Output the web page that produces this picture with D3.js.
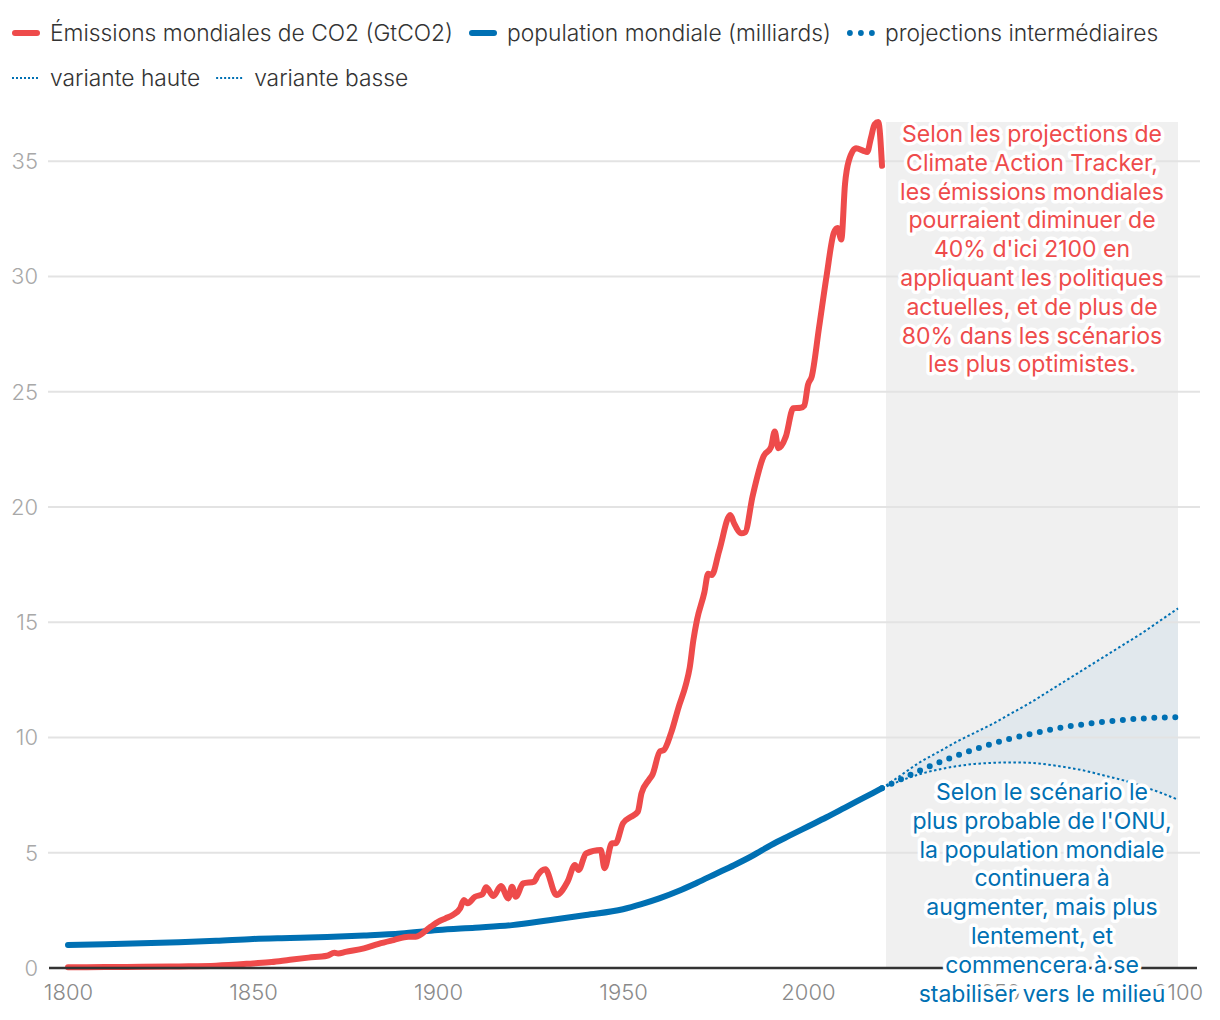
<!DOCTYPE html>
<html><head><meta charset="utf-8">
<script src="https://cdn.jsdelivr.net/npm/d3@7"></script>
<style>
html,body{margin:0;padding:0;background:#fff;overflow:hidden;}
svg{display:block;font-family:Inter,"Noto Sans",sans-serif;}
</style></head>
<body><svg id="chart" width="1220" height="1020"></svg>
<script>
// ---- data ----
const co2Years = [1800,1810,1820,1830,1840,1850,1855,1860,1865,1870,1872,1873,1875,1880,1884,1888,1892,1894,1898,1900,1902,1904,1906,1907,1908,1910,1912,1913,1915,1917,1919,1920,1921,1923,1926,1927,1929,1932,1935,1937,1938,1940,1944,1945,1947,1948,1950,1952,1954,1955,1957,1958,1960,1961,1963,1965,1967,1968,1969,1970,1972,1973,1974,1976,1979,1980,1982,1983,1985,1988,1990,1991,1992,1994,1996,1998,1999,2000,2001,2003,2005,2007,2008,2009,2010,2011,2013,2015,2016,2017,2018,2019,2020];
const co2Values = [0.03,0.04,0.05,0.07,0.10,0.20,0.26,0.36,0.45,0.53,0.66,0.63,0.70,0.85,1.05,1.21,1.36,1.36,1.79,2.0,2.15,2.3,2.59,2.95,2.81,3.09,3.2,3.5,3.12,3.56,3.02,3.53,3.09,3.67,3.75,4.03,4.28,3.17,3.74,4.47,4.25,4.97,5.12,4.33,5.41,5.41,6.28,6.54,6.78,7.58,8.16,8.4,9.4,9.45,10.2,11.3,12.3,13.0,14.2,15.1,16.3,17.1,17.05,18.1,19.65,19.3,18.86,18.9,20.45,22.2,22.6,23.27,22.55,23.05,24.28,24.3,24.4,25.3,25.65,27.8,30.0,31.9,32.1,31.6,34.0,35.0,35.56,35.45,35.4,36.0,36.6,36.7,34.8];

const popYears = [1800,1810,1820,1830,1840,1850,1860,1870,1880,1890,1900,1910,1920,1930,1940,1950,1955,1960,1965,1970,1975,1980,1985,1990,1995,2000,2005,2010,2015,2020];
const popValues = [1.0,1.03,1.07,1.12,1.18,1.26,1.3,1.34,1.41,1.5,1.65,1.75,1.86,2.07,2.3,2.55,2.77,3.03,3.34,3.7,4.08,4.46,4.87,5.33,5.74,6.14,6.54,6.96,7.38,7.8];

const projYears  = [2020,2025,2030,2035,2040,2045,2050,2055,2060,2065,2070,2075,2080,2085,2090,2095,2100];
const projMedium = [7.8,8.18,8.55,8.89,9.2,9.48,9.74,9.96,10.15,10.32,10.47,10.58,10.68,10.76,10.82,10.86,10.88];
const projHigh   = [7.8,8.35,8.9,9.35,9.8,10.2,10.6,11.05,11.5,12.0,12.5,13.0,13.5,14.0,14.5,15.05,15.6];
const projLow    = [7.8,8.12,8.4,8.6,8.75,8.85,8.9,8.92,8.9,8.82,8.7,8.55,8.35,8.15,7.9,7.62,7.3];

const yTicks = [0,5,10,15,20,25,30,35];
const xTicks = [1800,1850,1900,1950,2000,2050,2100];

const legendRow1 = [
  {label:"Émissions mondiales de CO2 (GtCO2)", kind:"red"},
  {label:"population mondiale (milliards)", kind:"blue"},
  {label:"projections intermédiaires", kind:"dots"}
];
const legendRow2 = [
  {label:"variante haute", kind:"thin"},
  {label:"variante basse", kind:"thin"}
];

const noteCO2 = ["Selon les projections de","Climate Action Tracker,","les émissions mondiales","pourraient diminuer de","40% d'ici 2100 en","appliquant les politiques","actuelles, et de plus de","80% dans les scénarios","les plus optimistes."];
const notePop = ["Selon le scénario le","plus probable de l'ONU,","la population mondiale","continuera à","augmenter, mais plus","lentement, et","commencera à se","stabiliser vers le milieu"];

// ---- layout ----
const RED = "#ee4b4b", BLUE = "#0070b3";
const svg = d3.select("#chart");
const x = d3.scaleLinear().domain([1800,2100]).range([68,1178]);
const y = d3.scaleLinear().domain([0,36.7]).range([968,122]);

// shaded projection area
svg.append("rect").attr("x", x(2020)+4).attr("y", y(36.7)).attr("width", x(2100)-x(2020)-4).attr("height", y(0)-y(36.7)).attr("fill","#f0f0f0");

// band high/low
const band = projYears.map((yr,i)=>({yr, hi:projHigh[i], lo:projLow[i]}));
svg.append("path").datum(band)
  .attr("d", d3.area().x(d=>x(d.yr)).y0(d=>y(d.lo)).y1(d=>y(d.hi)).curve(d3.curveMonotoneX))
  .attr("fill","#e1e8ed");

// gridlines
svg.append("g").selectAll("line").data(yTicks.filter(t=>t>0)).join("line")
  .attr("x1",48).attr("x2",1200).attr("y1",d=>y(d)).attr("y2",d=>y(d))
  .attr("stroke","#e3e3e3").attr("stroke-width",2);

// y labels
svg.append("g").selectAll("text").data(yTicks).join("text")
  .attr("x",38).attr("y",d=>y(d)).attr("dy","0.36em").attr("text-anchor","end")
  .attr("font-size",22).attr("font-weight",300).attr("fill","#a8a8a8").text(d=>d);

// x axis
const xAxis = svg.append("g").attr("transform",`translate(0,${y(0)})`)
  .call(d3.axisBottom(x).tickValues(xTicks).tickFormat(d3.format("d")).tickSize(0).tickPadding(16));
xAxis.select(".domain").remove();
xAxis.selectAll("text").attr("font-size",22).attr("font-weight",300).attr("fill","#8a8a8a").attr("font-family","Inter,'Noto Sans',sans-serif");

// lines
svg.append("path").datum(popYears.map((yr,i)=>[yr,popValues[i]]))
  .attr("d", d3.line().x(d=>x(d[0])).y(d=>y(d[1])).curve(d3.curveMonotoneX)).attr("fill","none").attr("stroke",BLUE).attr("stroke-width",6).attr("stroke-linecap","round");

svg.append("path").datum(co2Years.map((yr,i)=>[yr,co2Values[i]]))
  .attr("d", d3.line().x(d=>x(d[0])).y(d=>y(d[1])).curve(d3.curveMonotoneX)).attr("fill","none").attr("stroke",RED).attr("stroke-width",6).attr("stroke-linecap","round").attr("stroke-linejoin","round");

const pline = d3.line().x(d=>x(d[0])).y(d=>y(d[1])).curve(d3.curveMonotoneX);
svg.append("path").datum(projYears.map((yr,i)=>[yr,projHigh[i]]))
  .attr("d",pline).attr("fill","none").attr("stroke",BLUE).attr("stroke-width",2).attr("stroke-dasharray","2.5 2.5");
svg.append("path").datum(projYears.map((yr,i)=>[yr,projLow[i]]))
  .attr("d",pline).attr("fill","none").attr("stroke",BLUE).attr("stroke-width",2).attr("stroke-dasharray","2.5 2.5");
svg.append("path").datum(projYears.map((yr,i)=>[yr,projMedium[i]]))
  .attr("d",pline).attr("fill","none").attr("stroke",BLUE).attr("stroke-width",6).attr("stroke-linecap","round").attr("stroke-dasharray","0 10.5");

// axis baseline
svg.append("line").attr("x1",49).attr("x2",1197).attr("y1",y(0)).attr("y2",y(0)).attr("stroke","#333").attr("stroke-width",2.5);

// annotations
function note(lines, cx, y0, color){
  svg.append("g").selectAll("text").data(lines).join("text")
    .attr("x",cx).attr("y",(d,i)=>y0+i*28.8).attr("text-anchor","middle")
    .attr("font-size",23).attr("fill",color)
    .attr("stroke","#fff").attr("stroke-width",7).attr("stroke-linejoin","round").attr("paint-order","stroke")
    .text(d=>d);
}
note(noteCO2, 1032, 142, RED);
note(notePop, 1042, 800, BLUE);

// legend
function legendRow(items, yy){
  let cx = 12;
  items.forEach(it=>{
    const g = svg.append("g");
    if(it.kind==="red"||it.kind==="blue"){
      g.append("line").attr("x1",cx+3).attr("x2",cx+25).attr("y1",yy).attr("y2",yy)
        .attr("stroke",it.kind==="red"?RED:BLUE).attr("stroke-width",6).attr("stroke-linecap","round");
    } else if(it.kind==="dots"){
      g.selectAll("circle").data([3,14,25]).join("circle")
        .attr("cx",d=>cx+d).attr("cy",yy).attr("r",2.9).attr("fill",BLUE);
    } else {
      g.append("line").attr("x1",cx).attr("x2",cx+28).attr("y1",yy).attr("y2",yy)
        .attr("stroke",BLUE).attr("stroke-width",2).attr("stroke-dasharray","2 2");
    }
    const t = g.append("text").attr("x",cx+38).attr("y",yy).attr("dy","0.36em")
      .attr("font-size",22.8).attr("font-weight",300).attr("fill","#333").text(it.label);
    cx = cx + 38 + t.node().getComputedTextLength() + 16;
  });
}
legendRow(legendRow1, 33);
legendRow(legendRow2, 78);
</script></body></html>
